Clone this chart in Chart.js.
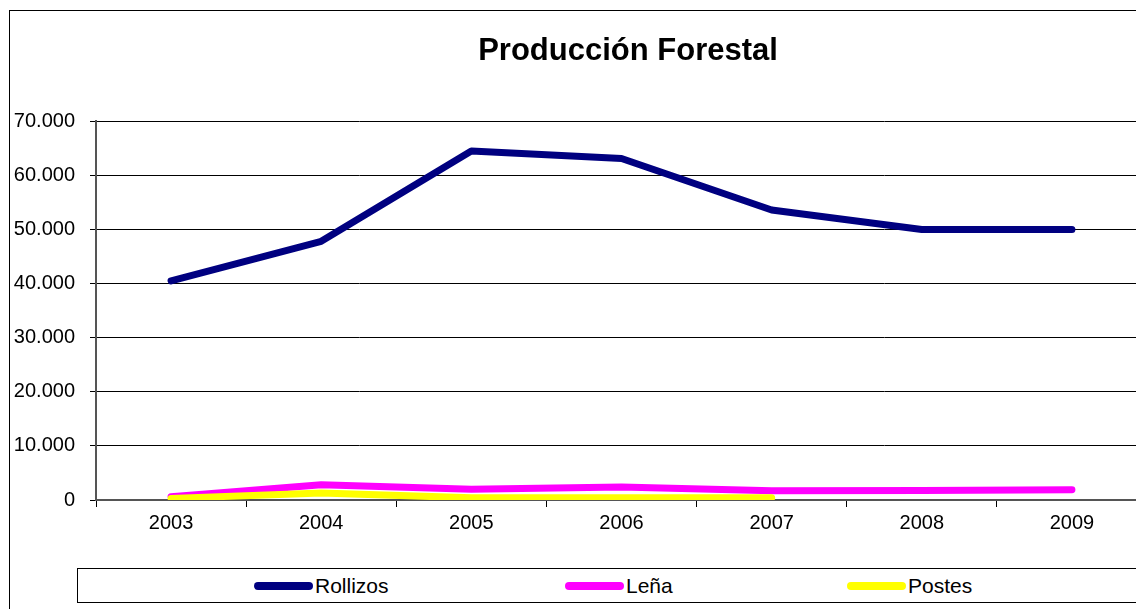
<!DOCTYPE html>
<html>
<head>
<meta charset="utf-8">
<script src="https://cdn.jsdelivr.net/npm/chart.js@4"></script>
<style>
  body { margin: 0; width: 1136px; height: 609px; overflow: hidden; background: #fff; position: relative; }
  #frame { position: absolute; left: 9px; top: 10px; width: 1236px; height: 620px; border: 1px solid #000; }
  #chartBox { position: absolute; left: 0; top: 0; width: 1236px; height: 539px; }
  #legend { position: absolute; left: 67px; top: 557px; width: 1200px; height: 33px; border: 1px solid #000; font-family: "Liberation Sans", Arial, sans-serif; font-size: 21px; }
  .item { position: absolute; top: 5px; height: 24px; line-height: 24px; white-space: nowrap; }
  .swatch { display: inline-block; width: 59px; height: 8px; border-radius: 4px; vertical-align: middle; margin-right: 2px; position: relative; top: -1px; }
</style>
</head>
<body>
<div id="frame">
  <div id="chartBox"><canvas id="forestChart"></canvas></div>
  <div id="legend"></div>
</div>
<script>
// Data
const years = ["2003", "2004", "2005", "2006", "2007", "2008", "2009"];
const rollizos = [40500, 47800, 64500, 63100, 53600, 50000, 50000];
const lena = [600, 2800, 2000, 2400, 1700, 1750, 1900];
const postes = [300, 1300, 400, 400, 400, null, null];
const seriesNames = ["Rollizos", "Leña", "Postes"];
const seriesColors = ["#000080", "#ff00ff", "#ffff00"];
const legendLeft = [176, 487, 769];

// 10000 -> "10.000"
function fmt(v) {
  return String(v).replace(/\B(?=(\d{3})+(?!\d))/g, ".");
}

const seriesValues = [rollizos, lena, postes];
const datasets = seriesNames.map((name, i) => ({
  label: name,
  data: seriesValues[i],
  borderColor: seriesColors[i],
  backgroundColor: seriesColors[i],
  borderWidth: 7,
  pointRadius: 0,
  tension: 0,
  borderCapStyle: "round",
  borderJoinStyle: "round",
  order: 2 - i // yellow drawn on top
}));

const tickFont = { family: "'Liberation Sans', Arial, sans-serif", size: 20 };

const ctx = document.getElementById("forestChart").getContext("2d");
new Chart(ctx, {
  type: "line",
  data: { labels: years, datasets: datasets },
  options: {
    responsive: true,
    maintainAspectRatio: false,
    animation: false,
    layout: { padding: 0 },
    plugins: {
      legend: { display: false },
      tooltip: { enabled: false },
      title: {
        display: true,
        text: "Producción Forestal",
        color: "#000",
        font: { family: "'Liberation Sans', Arial, sans-serif", size: 31, weight: "bold" },
        padding: { top: 22, bottom: 51 }
      }
    },
    scales: {
      x: {
        offset: true,
        grid: { offset: true, drawOnChartArea: false, drawTicks: true, tickLength: 7, color: "#000" },
        border: { color: "#555", width: 2 },
        ticks: { color: "#000", padding: 4, font: tickFont },
        afterFit: (scale) => { scale.height = 50; }
      },
      y: {
        min: 0,
        max: 70000,
        ticks: {
          stepSize: 10000,
          color: "#000",
          padding: 15,
          font: tickFont,
          callback: (v) => fmt(v)
        },
        grid: { color: "#000", tickLength: 6, lineWidth: 1 },
        border: { color: "#555", width: 2 },
        afterFit: (scale) => { scale.width = 86; }
      },
      // empty right axis only reserves space so the plot runs past the window edge
      yRight: {
        position: "right",
        min: 0,
        max: 70000,
        grid: { display: false },
        border: { display: false },
        ticks: { display: false },
        afterFit: (scale) => { scale.width = 99; }
      }
    }
  }
});

// HTML legend with items placed like the reference
const legend = document.getElementById("legend");
seriesNames.forEach((name, i) => {
  const item = document.createElement("div");
  item.className = "item";
  item.style.left = legendLeft[i] + "px";
  const sw = document.createElement("span");
  sw.className = "swatch";
  sw.style.background = seriesColors[i];
  item.appendChild(sw);
  item.appendChild(document.createTextNode(name));
  legend.appendChild(item);
});
</script>
</body>
</html>
